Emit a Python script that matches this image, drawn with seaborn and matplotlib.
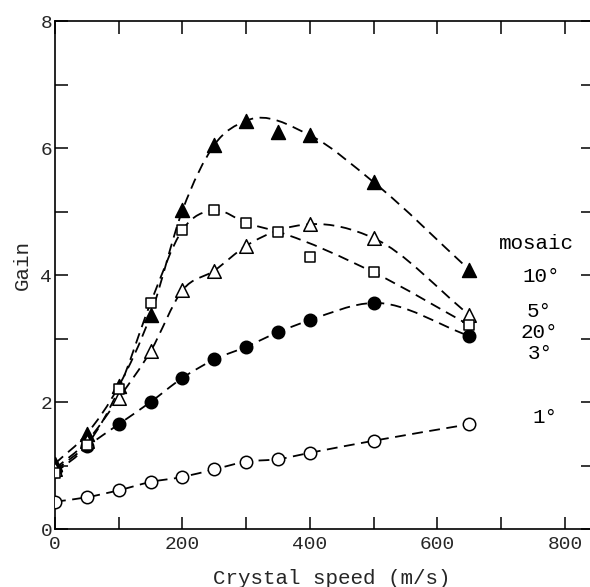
import matplotlib
matplotlib.use("Agg")
import matplotlib.pyplot as plt
from matplotlib.ticker import MultipleLocator, NullFormatter
from matplotlib.path import Path
from matplotlib.patches import PathPatch
import seaborn as sns
import pandas as pd

# Gain versus crystal speed for several mosaic spreads
speed_all = [0, 50, 100, 150, 200, 250, 300, 350, 400, 500, 650]
speed_5 = [0, 50, 100, 150, 200, 250, 300, 400, 500, 650]

gain_10 = [1.03, 1.50, 2.25, 3.37, 5.02, 6.05, 6.43, 6.25, 6.20, 5.46, 4.08]
gain_20 = [0.88, 1.32, 2.20, 3.56, 4.71, 5.02, 4.82, 4.68, 4.28, 4.04, 3.21]
gain_5 = [0.95, 1.38, 2.06, 2.80, 3.76, 4.07, 4.46, 4.80, 4.58, 3.37]
gain_3 = [0.92, 1.30, 1.65, 2.00, 2.38, 2.67, 2.87, 3.10, 3.29, 3.56, 3.04]
gain_1 = [0.43, 0.50, 0.61, 0.74, 0.82, 0.94, 1.06, 1.10, 1.20, 1.39, 1.65]

# speeds whose measurement is left off the hand-drawn guide curve
off_curve_10 = [350]
off_curve_20 = [400]

mosaic_labels = ["mosaic", "10°", "5°", "20°", "3°", "1°"]
label_x = [756, 762, 760, 760, 762, 768]
label_y = [4.50, 3.97, 3.42, 3.09, 2.77, 1.76]

sns.set_style("ticks")
font = "Liberation Mono"
plt.rcParams["font.family"] = [font, "DejaVu Sans"]

fig = plt.figure(figsize=(5.9, 5.87), dpi=100)
ax = fig.add_axes([0.0932, 0.0988, 0.9119, 0.8654])


def guide_path(xs, ys, skip=()):
    """Smooth guide curve (cubic Hermite as Bezier segments) through the points."""
    pts = [(x, y) for x, y in zip(xs, ys) if x not in skip]
    xs = [p[0] for p in pts]
    ys = [p[1] for p in pts]
    n = len(xs)
    h = [xs[i + 1] - xs[i] for i in range(n - 1)]
    d = [(ys[i + 1] - ys[i]) / h[i] for i in range(n - 1)]
    m = [d[0]]
    for i in range(1, n - 1):
        m.append((d[i - 1] * h[i] + d[i] * h[i - 1]) / (h[i - 1] + h[i]))
    m.append(d[-1])
    verts = [(xs[0], ys[0])]
    codes = [Path.MOVETO]
    for i in range(n - 1):
        t = h[i] / 3.0
        verts += [(xs[i] + t, ys[i] + t * m[i]),
                  (xs[i + 1] - t, ys[i + 1] - t * m[i + 1]),
                  (xs[i + 1], ys[i + 1])]
        codes += [Path.CURVE4] * 3
    return Path(verts, codes)


series = [
    (speed_all, gain_1, "o", "white", 4, 80, []),
    (speed_all, gain_3, "o", "black", 3, 80, []),
    (speed_5, gain_5, "^", "white", 4, 95, []),
    (speed_all, gain_20, "s", "white", 5, 62, off_curve_20),
    (speed_all, gain_10, "^", "black", 3, 100, off_curve_10),
]

dash = (0, (6, 3.6))
for xs, ys, mk, fc, z, size, skip in series:
    ax.add_patch(PathPatch(guide_path(xs, ys, skip), fill=False,
                           edgecolor="black", lw=1.3, ls=dash, zorder=2))

for xs, ys, mk, fc, z, size, skip in series:
    df = pd.DataFrame({"speed": xs, "gain": ys})
    sns.scatterplot(data=df, x="speed", y="gain", marker=mk, s=size,
                    color=fc, edgecolor="black", linewidth=1.1, ax=ax,
                    zorder=z, legend=False)

for t, x, y in zip(mosaic_labels, label_x, label_y):
    ax.text(x, y, t, ha="center", va="center", fontsize=15, color="black",
            family=[font, "DejaVu Sans"])

ax.set_xlim(0, 844)
ax.set_ylim(0, 8)
ax.xaxis.set_major_locator(MultipleLocator(200))
ax.xaxis.set_minor_locator(MultipleLocator(100))
ax.yaxis.set_major_locator(MultipleLocator(2))
ax.yaxis.set_minor_locator(MultipleLocator(1))
ax.xaxis.set_minor_formatter(NullFormatter())
ax.yaxis.set_minor_formatter(NullFormatter())

for which in ("major", "minor"):
    ax.tick_params(which=which, direction="in", length=9, width=1.1,
                   top=True, right=True, labelsize=14, color="black")
ax.tick_params(axis="x", which="major", pad=5)
ax.tick_params(axis="y", which="major", pad=2)

for sp in ax.spines.values():
    sp.set_visible(True)
    sp.set_linewidth(1.2)
    sp.set_color("black")

ax.set_xlabel("Crystal speed (m/s)", fontsize=15)
ax.set_ylabel("Gain", fontsize=15)
ax.xaxis.set_label_coords(0.515, -0.078)
ax.yaxis.set_label_coords(-0.043, 0.52)

fig.savefig("out.png", dpi=100, facecolor="white")
